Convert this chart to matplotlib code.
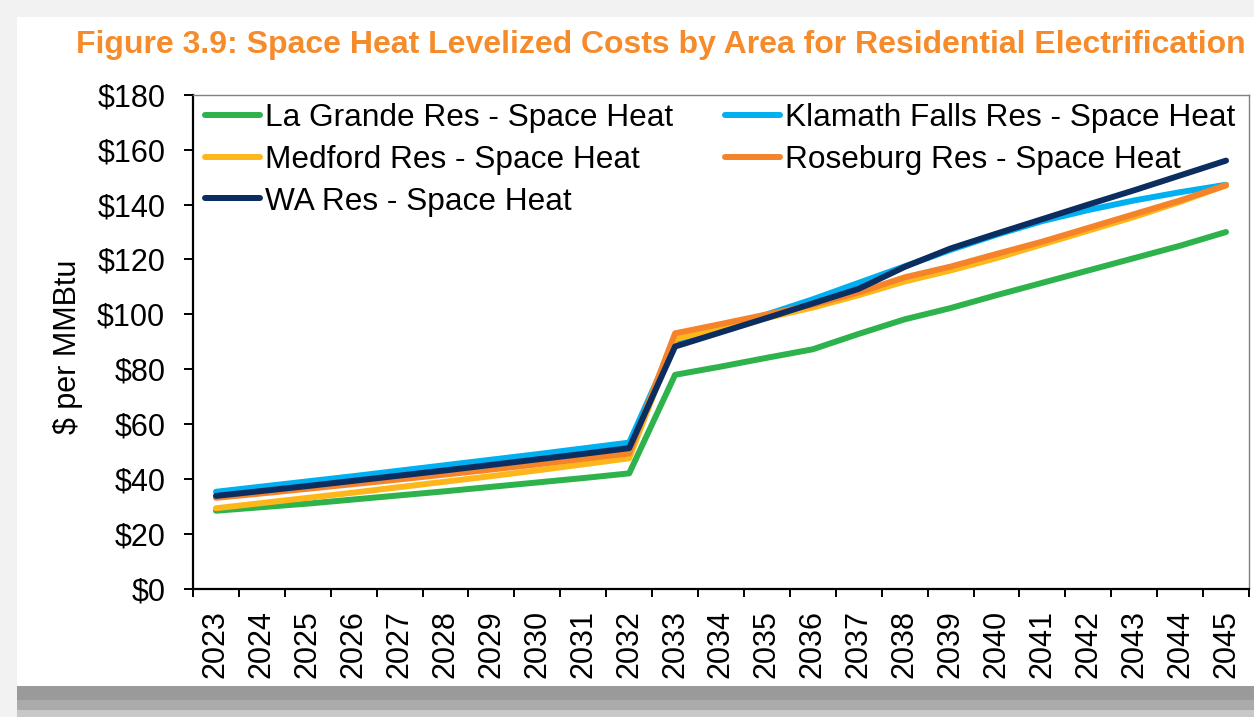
import numpy as np
import matplotlib
matplotlib.use("Agg")
import matplotlib.pyplot as plt
from matplotlib.patches import Rectangle
from matplotlib.ticker import FixedLocator

plt.rcParams['font.family'] = ['Liberation Sans', 'DejaVu Sans']

years = [str(y) for y in range(2023, 2046)]

la_grande = [28.5, 29.8, 31.1, 32.6, 34.1, 35.6, 37.2, 38.8, 40.4, 42.1,
             78.0, 81.0, 84.2, 87.3, 92.9, 98.2, 102.3, 107.0, 111.5, 116.0,
             120.5, 125.0, 130.0]
klamath = [35.4, 37.3, 39.2, 41.1, 43.1, 45.1, 47.1, 49.1, 51.2, 53.3,
           90.5, 95.0, 100.0, 105.5, 111.5, 117.5, 123.5, 129.0, 134.0, 138.0,
           141.5, 144.5, 147.2]
medford = [29.4, 31.3, 33.2, 35.1, 37.1, 39.1, 41.1, 43.2, 45.4, 47.6,
           91.0, 95.0, 98.7, 102.5, 107.0, 112.0, 116.0, 120.5, 125.5, 130.5,
           135.5, 141.0, 147.0]
roseburg = [33.2, 34.8, 36.5, 38.2, 39.9, 41.7, 43.5, 45.4, 47.4, 49.4,
            93.1, 96.5, 100.0, 103.5, 108.0, 113.5, 117.4, 122.0, 126.5, 131.5,
            136.5, 141.5, 147.0]
wa = [33.9, 35.7, 37.5, 39.4, 41.3, 43.2, 45.2, 47.2, 49.2, 51.3,
      88.3, 93.5, 98.7, 104.0, 109.3, 117.3, 124.0, 129.4, 134.7, 140.0,
      145.2, 150.6, 156.0]

series = [
    ("La Grande Res - Space Heat", la_grande, "#2EB24B"),
    ("Klamath Falls Res - Space Heat", klamath, "#00B0F0"),
    ("Medford Res - Space Heat", medford, "#FDB71A"),
    ("Roseburg Res - Space Heat", roseburg, "#F5832A"),
    ("WA Res - Space Heat", wa, "#0B2D5F"),
]

W, H = 1254, 717
fig = plt.figure(figsize=(W / 100, H / 100), dpi=100)
fig.patch.set_facecolor("#F2F2F2")

# page frame / shadow
fig.add_artist(Rectangle((17 / W, 1 - 686 / H), 1, 669 / H,
                         transform=fig.transFigure, fc="white", ec="none", zorder=-10))
fig.add_artist(Rectangle((17 / W, 0), 1, 31 / H,
                         transform=fig.transFigure, fc="#9A9A9A", ec="none", zorder=-9))
fig.add_artist(Rectangle((17 / W, 0), 1, 17 / H,
                         transform=fig.transFigure, fc="#ABABAB", ec="none", zorder=-8))
fig.add_artist(Rectangle((17 / W, 0), 1, 7 / H,
                         transform=fig.transFigure, fc="#C8C8C8", ec="none", zorder=-7))

ax = fig.add_axes([193 / W, 1 - 589 / H, 1056 / W, 494.3 / H])
x = np.arange(len(years))

handles = {}
for name, vals, color in series:
    ln, = ax.plot(x, vals, color=color, lw=4.3, solid_capstyle="round", label=name)
    handles[name] = ln

ax.set_xlim(-0.5, len(years) - 0.5)
ax.set_ylim(0, 180)
ax.set_yticks(np.arange(0, 181, 20))
ax.set_yticklabels([f"${v}" for v in range(0, 181, 20)])
ax.set_xticks(x)
ax.set_xticklabels(years, rotation=90)
ax.xaxis.set_minor_locator(FixedLocator(np.arange(-0.5, len(years), 1.0)))

ax.tick_params(axis="x", which="major", length=0, pad=15, labelsize=22)
ax.tick_params(axis="x", which="minor", length=6, width=1.4, direction="out")
ax.tick_params(axis="y", length=6.5, width=1.4, pad=13.5, labelsize=22)

for side in ("left", "bottom"):
    ax.spines[side].set_linewidth(1.6)
    ax.spines[side].set_color("black")
for side in ("top", "right"):
    ax.spines[side].set_linewidth(1.0)
    ax.spines[side].set_color("#808080")

order = ["La Grande Res - Space Heat", "Medford Res - Space Heat", "WA Res - Space Heat",
         "Klamath Falls Res - Space Heat", "Roseburg Res - Space Heat"]
ax.legend([handles[n] for n in order], order, ncol=2, loc="upper left",
          bbox_to_anchor=(0.011, 0.983), frameon=False, fontsize=22.8,
          handlelength=1.75, handletextpad=0.16, labelspacing=0.37,
          columnspacing=1.62, borderpad=0, borderaxespad=0)

fig.text(68 / W, 1 - 347 / H, "$ per MMBtu", rotation=90, ha="center", va="center",
         fontsize=22)
fig.text(661 / W, 1 - 45 / H,
         "Figure 3.9: Space Heat Levelized Costs by Area for Residential Electrification",
         ha="center", va="center", fontsize=23, fontweight="bold", color="#F68B2C")

fig.savefig("out.png", dpi=100, facecolor=fig.get_facecolor())
